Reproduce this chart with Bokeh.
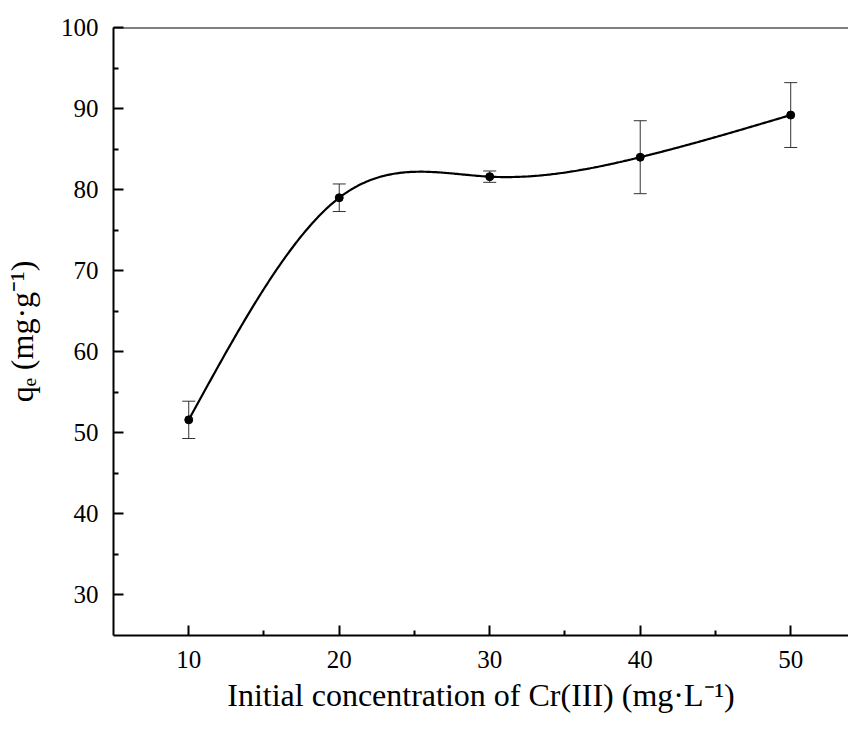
import numpy as np
from bokeh.plotting import figure
from bokeh.models import ColumnDataSource, Whisker, TeeHead, Span, Range1d, FixedTicker
from bokeh.embed import file_html
from bokeh.resources import INLINE

# ---- data ----
conc = [10, 20, 30, 40, 50]
qe = [51.6, 79.0, 81.6, 84.0, 89.2]
qe_err = [2.3, 1.7, 0.7, 4.5, 4.0]
x_ticks = [10, 20, 30, 40, 50]
x_minor = [15, 25, 35, 45]
y_ticks = [30, 40, 50, 60, 70, 80, 90, 100]
y_minor = [35, 45, 55, 65, 75, 85, 95]
x_title = "Initial concentration of Cr(III) (mg\u00b7L\u207b\u00b9)"
y_title = "q\u2091 (mg\u00b7g\u207b\u00b9)"

FONT = "Liberation Serif"


def natural_spline(xs, ys, n=400):
    xs = np.asarray(xs, float)
    ys = np.asarray(ys, float)
    k = len(xs)
    h = np.diff(xs)
    A = np.zeros((k, k))
    b = np.zeros(k)
    A[0, 0] = A[-1, -1] = 1
    for i in range(1, k - 1):
        A[i, i - 1] = h[i - 1]
        A[i, i] = 2 * (h[i - 1] + h[i])
        A[i, i + 1] = h[i]
        b[i] = 6 * ((ys[i + 1] - ys[i]) / h[i] - (ys[i] - ys[i - 1]) / h[i - 1])
    M = np.linalg.solve(A, b)
    xx = np.linspace(xs[0], xs[-1], n)
    idx = np.clip(np.searchsorted(xs, xx) - 1, 0, k - 2)
    x0 = xs[idx]
    x1 = xs[idx + 1]
    hh = x1 - x0
    t0 = x1 - xx
    t1 = xx - x0
    yy = ((M[idx] * t0 ** 3 + M[idx + 1] * t1 ** 3) / (6 * hh)
          + (ys[idx] / hh - M[idx] * hh / 6) * t0
          + (ys[idx + 1] / hh - M[idx + 1] * hh / 6) * t1)
    return xx, yy


p = figure(width=848, height=715, x_range=Range1d(5, 53.84), y_range=Range1d(25, 100),
           output_backend="svg", toolbar_location=None,
           min_border_left=110, min_border_right=0, min_border_top=27, min_border_bottom=80)
p.outline_line_color = None
p.grid.visible = False
p.background_fill_color = "white"
p.border_fill_color = "white"

p.xaxis.ticker = FixedTicker(ticks=x_ticks, minor_ticks=x_minor)
p.yaxis.ticker = FixedTicker(ticks=y_ticks, minor_ticks=y_minor)
for ax in (p.xaxis[0], p.yaxis[0]):
    ax.axis_line_width = 2
    ax.axis_line_color = "black"
    ax.major_tick_line_width = 2
    ax.minor_tick_line_width = 2
    ax.major_tick_line_color = "black"
    ax.minor_tick_line_color = "black"
    ax.major_tick_in = 10
    ax.major_tick_out = 0
    ax.minor_tick_in = 5
    ax.minor_tick_out = 0
    ax.major_label_text_font = FONT
    ax.major_label_text_font_size = "25px"
    ax.major_label_text_color = "black"
    ax.axis_label_text_font = FONT
    ax.axis_label_text_font_size = "32px"
    ax.axis_label_text_font_style = "normal"
    ax.axis_label_text_color = "black"
p.xaxis.major_label_standoff = 15
p.yaxis.major_label_standoff = 15
p.xaxis.axis_label = x_title
p.yaxis.axis_label = y_title
p.xaxis.axis_label_standoff = 6
p.yaxis.axis_label_standoff = 18

p.add_layout(Span(location=100, dimension="width", line_color="black", line_width=2))

# spline curve through the points
sx, sy = natural_spline(conc, qe)
p.line(sx, sy, line_color="black", line_width=2.2)

src = ColumnDataSource(dict(x=conc, y=qe,
                            upper=[v + e for v, e in zip(qe, qe_err)],
                            lower=[v - e for v, e in zip(qe, qe_err)]))
ecol = "#333333"
p.add_layout(Whisker(source=src, base="x", upper="upper", lower="lower",
                     line_color=ecol, line_width=1,
                     upper_head=TeeHead(size=13, line_color=ecol, line_width=1),
                     lower_head=TeeHead(size=13, line_color=ecol, line_width=1)))
p.scatter("x", "y", source=src, size=8, color="black")

open("out.html", "w").write(file_html(p, INLINE))
